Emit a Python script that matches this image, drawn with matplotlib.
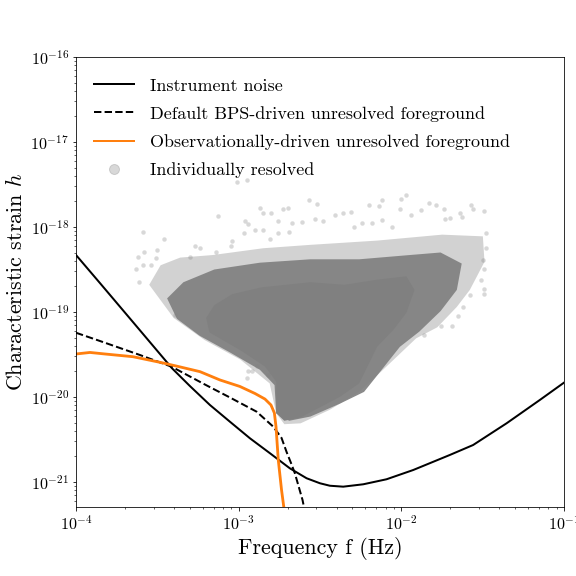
import numpy as np
import matplotlib.pyplot as plt
from matplotlib.lines import Line2D

plt.rcParams['font.family'] = 'serif'
plt.rcParams['font.serif'] = ['cmr10']
plt.rcParams['mathtext.fontset'] = 'cm'
plt.rcParams['axes.formatter.use_mathtext'] = True

# all values are log10(f / Hz) and log10(h)

# Instrument noise curve
logf_noise = [-4.000, -3.853, -3.650, -3.410, -3.300, -3.177, -3.054, -2.931, -2.808,
              -2.686, -2.583, -2.501, -2.440, -2.358, -2.235, -2.092, -1.928, -1.703,
              -1.560, -1.354, -1.150, -1.000]
logh_noise = [-18.329, -18.659, -19.118, -19.662, -19.871, -20.094, -20.291, -20.486,
              -20.662, -20.839, -20.956, -21.015, -21.044, -21.055, -21.027, -20.968,
              -20.859, -20.682, -20.565, -20.309, -20.035, -19.829]

# Default BPS-driven unresolved foreground
logf_bps = [-4.000, -3.853, -3.607, -3.412, -3.208, -3.054, -2.890, -2.788, -2.737,
            -2.706, -2.679, -2.655, -2.608, -2.593]
logh_bps = [-19.244, -19.341, -19.506, -19.644, -19.853, -20.006, -20.173, -20.349,
            -20.482, -20.647, -20.776, -20.898, -21.212, -21.353]

# Observationally-driven unresolved foreground
logf_obs = [-4.000, -3.914, -3.822, -3.650, -3.474, -3.372, -3.238, -3.115, -2.993,
            -2.900, -2.839, -2.802, -2.781, -2.771, -2.757, -2.737, -2.719]
logh_obs = [-19.494, -19.476, -19.494, -19.526, -19.596, -19.641, -19.702, -19.800,
            -19.876, -19.959, -20.024, -20.094, -20.188, -20.349, -20.741, -21.094, -21.353]

# Individually resolved sources: outlines of the cloud at three densities
core_logf = [-3.20, -3.15, -3.04, -2.86, -2.56, -2.35, -2.15, -1.97, -1.92, -1.97, -2.05,
             -2.15, -2.26, -2.38, -2.50, -2.62, -2.72, -2.77, -2.77, -2.80, -2.84, -2.99, -3.18]
core_logh = [-19.07, -18.92, -18.79, -18.71, -18.65, -18.68, -18.62, -18.58, -18.74, -19.01,
             -19.21, -19.41, -19.84, -20.00, -20.12, -20.24, -20.28, -20.19, -19.82, -19.74,
             -19.64, -19.45, -19.24]
mid_logf = [-3.44, -3.34, -3.15, -2.87, -2.56, -2.26, -1.95, -1.76, -1.63, -1.66, -1.76,
            -1.89, -2.01, -2.13, -2.23, -2.38, -2.56, -2.69, -2.77, -2.78, -2.87, -3.05,
            -3.24, -3.38]
mid_logh = [-18.84, -18.65, -18.50, -18.42, -18.38, -18.38, -18.33, -18.30, -18.43, -18.74,
            -18.99, -19.23, -19.41, -19.70, -19.94, -20.08, -20.23, -20.28, -20.19, -19.86,
            -19.68, -19.48, -19.28, -19.08]
fringe_logf = [-3.55, -3.48, -3.36, -3.16, -2.85, -2.56, -2.15, -1.75, -1.50, -1.49, -1.58,
               -1.66, -1.78, -1.91, -2.13, -2.26, -2.44, -2.62, -2.72, -2.77, -2.81, -2.99,
               -3.21, -3.40]
fringe_logh = [-18.68, -18.45, -18.36, -18.33, -18.25, -18.21, -18.16, -18.09, -18.11, -18.41,
               -18.74, -18.94, -19.18, -19.31, -19.71, -19.94, -20.15, -20.31, -20.32, -20.19,
               -19.84, -19.56, -19.33, -19.07]

# Scattered individual sources outside the dense cloud
pts_logf = [-3.59, -3.46, -3.62, -3.58, -3.63, -3.61, -3.59, -3.50, -3.27, -3.24, -3.13,
            -2.96, -2.94, -2.87, -2.85, -2.80, -2.73, -2.70, -2.76, -2.67, -2.61, -2.57,
            -2.97, -2.90, -2.85, -2.81, -2.76, -2.69, -3.04, -3.05, -3.14, -2.95, -3.01,
            -3.54, -3.39, -3.51, -3.30,
            -1.97, -2.00, -2.12, -2.14, -2.20, -2.52, -2.41, -2.36, -2.31, -2.53, -2.48,
            -2.29, -2.24, -2.18, -2.12, -2.06, -2.01, -1.94, -1.88, -1.83, -1.79, -1.74,
            -1.73, -1.70, -1.64, -1.63, -1.57, -1.56, -1.49, -1.48, -1.48, -1.50, -1.49,
            -1.51, -1.49, -1.49, -1.58, -1.62, -1.65, -1.69, -1.76, -1.86,
            -2.94, -2.92, -2.89, -2.95, -2.82]
pts_logh = [-18.06, -18.14, -18.35, -18.30, -18.50, -18.65, -18.45, -18.27, -18.22, -18.25,
            -17.87, -17.93, -17.96, -17.78, -17.84, -17.83, -17.79, -17.78, -17.93, -17.95,
            -17.94, -17.68, -18.07, -18.03, -18.04, -18.14, -18.07, -18.06, -18.17, -18.22,
            -18.29, -17.45, -17.47, -18.45, -19.04, -18.36, -18.35,
            -17.62, -17.67, -17.68, -17.75, -17.74, -17.73, -17.86, -17.83, -17.82, -17.91,
            -17.93, -18.00, -17.95, -17.95, -17.92, -18.00, -17.79, -17.86, -17.80, -17.72,
            -17.74, -17.79, -17.91, -17.90, -17.83, -17.88, -17.74, -17.79, -17.81, -18.07,
            -18.25, -18.39, -18.50, -18.62, -18.73, -18.79, -18.80, -18.94, -19.05, -19.17,
            -19.17, -19.27,
            -19.69, -19.69, -19.64, -19.78, -19.74]

def tolin(a):
    return 10 ** np.array(a)

fig = plt.figure(figsize=(8, 8), dpi=72)
ax = fig.add_axes([0.1319, 0.1198, 0.8477, 0.78125])

# resolved sources
ax.fill(tolin(fringe_logf), tolin(fringe_logh), color='gray', alpha=0.35, lw=0)
ax.fill(tolin(mid_logf), tolin(mid_logh), color='gray', alpha=0.92, lw=0)
ax.fill(tolin(core_logf), tolin(core_logh), color='gray', alpha=1.0, lw=0)
ax.scatter(tolin(pts_logf), tolin(pts_logh), s=20, color='gray', alpha=0.3, lw=0)

ax.plot(tolin(logf_noise), tolin(logh_noise), color='black', lw=2)
ax.plot(tolin(logf_bps), tolin(logh_bps), color='black', lw=2, ls='--')
ax.plot(tolin(logf_obs), tolin(logh_obs), color='#ff7f0e', lw=2.8)

ax.set_xscale('log')
ax.set_yscale('log')
ax.set_xlim(1e-4, 1e-1)
ax.set_ylim(5.08e-22, 1e-16)
ax.tick_params(labelsize=16)

ax.set_xlabel('Frequency f (Hz)', fontsize=22)
ax.set_ylabel('Characteristic strain $h$', fontsize=22)

handles = [Line2D([], [], color='black', lw=2),
           Line2D([], [], color='black', lw=2, ls='--'),
           Line2D([], [], color='#ff7f0e', lw=2),
           Line2D([], [], color='gray', alpha=0.3, marker='o', ls='', markersize=10)]
labels = ['Instrument noise', 'Default BPS-driven unresolved foreground',
          'Observationally-driven unresolved foreground', 'Individually resolved']
ax.legend(handles, labels, loc='upper left', bbox_to_anchor=(0.0, 0.993), frameon=False,
          fontsize=18, handlelength=2.2, handletextpad=0.9, labelspacing=0.68,
          borderaxespad=0.6)

fig.savefig('out.png', dpi=72)
